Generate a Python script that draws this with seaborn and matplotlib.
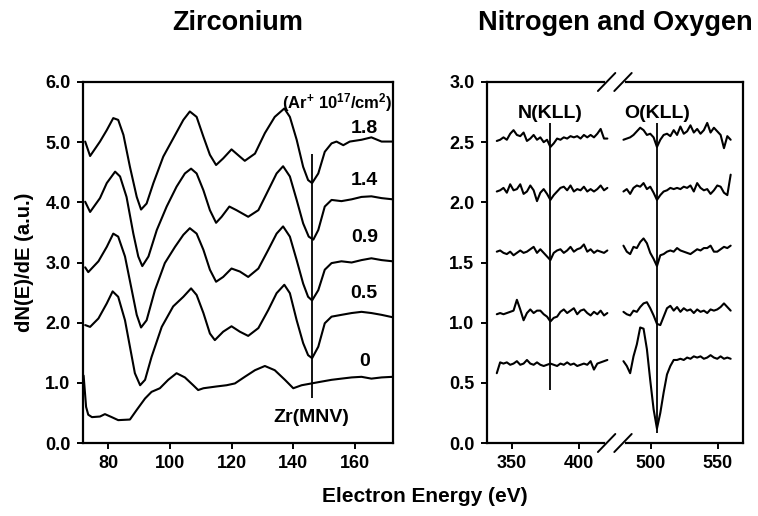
import numpy as np
import pandas as pd
import matplotlib
matplotlib.use("Agg")
import matplotlib.pyplot as plt
import seaborn as sns

# ---------------- data: Zirconium MNV (left panel) ----------------
dose_labels = ["1.8", "1.4", "0.9", "0.5", "0"]

zr18_e = [72.6, 74.2, 77.4, 79.6, 81.7, 83.3, 85.0, 87.1, 89.3, 90.7, 92.5, 94.7, 97.9, 101.1, 104.4,
          106.5, 108.7, 110.9, 113.0, 115.0, 117.3, 120.0, 122.7, 124.3, 127.6, 130.8, 134.0, 137.1,
          138.9, 141.1, 143.2, 144.8, 146.1, 148.1, 150.2, 152.4, 154.0, 156.2, 158.3, 162.1, 165.3,
          168.6, 172.2]
zr18_y = [5.01, 4.77, 5.01, 5.20, 5.40, 5.37, 5.12, 4.59, 4.09, 3.88, 3.98, 4.32, 4.76, 5.06, 5.37,
          5.51, 5.42, 5.09, 4.79, 4.62, 4.73, 4.88, 4.76, 4.69, 4.81, 5.15, 5.42, 5.56,
          5.42, 5.04, 4.59, 4.37, 4.32, 4.48, 4.84, 4.98, 5.01, 4.95, 5.01, 5.04, 5.08,
          5.01, 5.01]

zr14_e = [72.6, 74.2, 77.4, 79.6, 82.3, 83.9, 86.0, 88.2, 89.8, 91.1, 93.1, 95.8, 99.0, 102.2, 104.9,
          106.9, 108.7, 110.9, 113.0, 115.0, 116.8, 119.3, 121.6, 125.4, 128.7, 131.9, 134.6, 136.7,
          138.9, 141.1, 143.2, 145.0, 146.5, 148.1, 150.2, 152.4, 155.6, 158.9, 162.1, 165.3, 168.6,
          172.2]
zr14_y = [4.01, 3.84, 4.07, 4.32, 4.51, 4.43, 4.09, 3.48, 3.10, 2.94, 3.10, 3.54, 3.93, 4.26, 4.48,
          4.56, 4.48, 4.20, 3.87, 3.66, 3.76, 3.93, 3.87, 3.76, 3.87, 4.20, 4.48, 4.60,
          4.43, 4.04, 3.65, 3.43, 3.38, 3.54, 3.93, 4.04, 4.02, 4.05, 4.09, 4.10, 4.07,
          4.05]

zr09_e = [72.6, 73.6, 76.9, 79.6, 81.7, 83.3, 85.5, 87.7, 89.3, 90.7, 92.5, 95.2, 98.4, 101.7, 104.4,
          106.5, 108.7, 110.9, 113.0, 115.0, 117.3, 120.0, 122.7, 125.4, 128.7, 131.9, 134.6, 136.7,
          138.9, 141.1, 143.2, 144.8, 146.1, 148.1, 150.2, 152.4, 155.6, 158.9, 162.1, 165.3, 168.6,
          172.2]
zr09_y = [2.92, 2.84, 3.02, 3.26, 3.48, 3.43, 3.10, 2.54, 2.13, 1.92, 2.04, 2.54, 2.99, 3.26, 3.46,
          3.57, 3.48, 3.21, 2.88, 2.68, 2.76, 2.90, 2.85, 2.76, 2.90, 3.21, 3.48, 3.60,
          3.43, 3.04, 2.65, 2.43, 2.37, 2.54, 2.88, 2.99, 3.02, 3.00, 3.04, 3.07, 3.04,
          3.02]

zr05_e = [72.6, 74.2, 76.9, 79.6, 81.5, 83.3, 85.5, 87.1, 88.7, 90.4, 92.0, 94.1, 97.4, 101.1, 104.4,
          106.9, 108.7, 110.9, 113.0, 114.6, 117.3, 120.0, 122.7, 125.4, 128.7, 131.9, 134.6, 137.1,
          138.9, 141.1, 143.2, 144.8, 146.1, 148.1, 150.2, 152.4, 155.6, 158.9, 162.1, 165.3, 168.6,
          172.2]
zr05_y = [1.96, 1.93, 2.07, 2.32, 2.52, 2.43, 2.04, 1.60, 1.16, 0.96, 1.05, 1.43, 1.93, 2.27, 2.43,
          2.57, 2.46, 2.16, 1.82, 1.71, 1.85, 1.94, 1.85, 1.78, 1.91, 2.21, 2.49, 2.63,
          2.49, 2.04, 1.66, 1.46, 1.41, 1.60, 1.99, 2.10, 2.13, 2.16, 2.18, 2.16, 2.13,
          2.09]

zr00_e = [72.1, 72.9, 73.6, 74.8, 77.4, 79.0, 81.2, 83.3, 87.1, 89.3, 92.0, 94.1, 96.8, 99.5, 102.2,
          104.9, 107.6, 109.2, 110.9, 115.2, 118.4, 121.1, 124.3, 127.6, 130.8, 134.0, 137.3, 140.0,
          142.7, 145.9, 149.1, 152.4, 155.6, 158.9, 162.1, 165.3, 168.6, 172.2]
zr00_y = [1.12, 0.60, 0.47, 0.43, 0.44, 0.48, 0.43, 0.38, 0.39, 0.55, 0.74, 0.85, 0.91, 1.05, 1.16,
          1.09, 0.96, 0.88, 0.91, 0.94, 0.96, 0.99, 1.10, 1.21, 1.28, 1.21, 1.05, 0.91,
          0.96, 0.99, 1.02, 1.05, 1.07, 1.09, 1.10, 1.07, 1.09, 1.10]

zr_label_y = [5.23, 4.37, 3.41, 2.49, 1.35]
zr_line_energy = 146.2
zr_line_span = (0.75, 4.80)

# ---------------- data: N and O KLL (right panel) ----------------
n_energy = [338.8, 341.3, 343.8, 346.3, 348.8, 351.3, 353.8, 356.3, 358.8, 361.3, 363.8, 366.3,
            368.8, 371.3, 373.8, 376.3, 378.8, 381.3, 383.8, 386.3, 388.8, 391.3, 393.8, 396.3,
            398.8, 401.3, 403.8, 406.3, 408.8, 411.3, 413.8, 416.3, 418.8, 421.3]
o_energy = [479.6, 482.1, 484.6, 487.1, 489.6, 492.1, 494.6, 497.1, 499.6, 502.1, 504.6, 507.1,
            509.6, 512.1, 514.6, 517.1, 519.6, 522.1, 524.6, 527.1, 529.6, 532.1, 534.6, 537.1,
            539.6, 542.1, 544.6, 547.1, 549.6, 552.1, 554.6, 557.1, 559.6]

n_18 = [2.51, 2.52, 2.54, 2.52, 2.57, 2.60, 2.56, 2.55, 2.58, 2.51, 2.53, 2.56, 2.52, 2.54, 2.50,
        2.52, 2.46, 2.49, 2.53, 2.52, 2.54, 2.53, 2.55, 2.54, 2.55, 2.53, 2.56, 2.54, 2.56, 2.54,
        2.57, 2.61, 2.53, 2.53]
n_14 = [2.09, 2.10, 2.12, 2.08, 2.15, 2.10, 2.11, 2.15, 2.07, 2.09, 2.14, 2.10, 2.01, 2.08, 2.11,
        2.07, 2.02, 2.06, 2.09, 2.12, 2.13, 2.10, 2.14, 2.09, 2.11, 2.10, 2.13, 2.09, 2.11, 2.09,
        2.11, 2.14, 2.10, 2.12]
n_09 = [1.59, 1.60, 1.58, 1.57, 1.59, 1.56, 1.58, 1.60, 1.58, 1.59, 1.61, 1.63, 1.58, 1.61, 1.58,
        1.55, 1.52, 1.58, 1.60, 1.61, 1.58, 1.60, 1.63, 1.59, 1.61, 1.62, 1.65, 1.59, 1.61, 1.58,
        1.60, 1.59, 1.58, 1.60]
n_05 = [1.07, 1.08, 1.07, 1.08, 1.09, 1.10, 1.19, 1.11, 1.02, 1.08, 1.11, 1.08, 1.10, 1.10, 1.07,
        1.05, 1.01, 1.04, 1.05, 1.09, 1.11, 1.08, 1.10, 1.12, 1.07, 1.10, 1.11, 1.08, 1.06, 1.09,
        1.07, 1.10, 1.06, 1.08]
n_00 = [0.58, 0.67, 0.66, 0.67, 0.65, 0.66, 0.68, 0.65, 0.66, 0.69, 0.66, 0.65, 0.67, 0.65, 0.64,
        0.65, 0.66, 0.65, 0.64, 0.66, 0.65, 0.67, 0.65, 0.66, 0.64, 0.65, 0.66, 0.65, 0.68, 0.61,
        0.66, 0.67, 0.68, 0.69]

o_18 = [2.52, 2.53, 2.54, 2.56, 2.59, 2.62, 2.60, 2.56, 2.57, 2.54, 2.46, 2.52, 2.56, 2.57, 2.55,
        2.60, 2.56, 2.63, 2.57, 2.59, 2.64, 2.58, 2.61, 2.57, 2.60, 2.66, 2.58, 2.62, 2.59, 2.56,
        2.45, 2.55, 2.52]
o_14 = [2.09, 2.11, 2.07, 2.12, 2.14, 2.13, 2.16, 2.11, 2.13, 2.08, 2.02, 2.06, 2.09, 2.10, 2.12,
        2.11, 2.12, 2.11, 2.13, 2.12, 2.14, 2.09, 2.16, 2.12, 2.10, 2.11, 2.07, 2.10, 2.14, 2.13,
        2.08, 2.06, 2.23]
o_09 = [1.64, 1.59, 1.57, 1.63, 1.62, 1.67, 1.70, 1.66, 1.58, 1.53, 1.47, 1.56, 1.57, 1.59, 1.60,
        1.59, 1.62, 1.60, 1.59, 1.58, 1.57, 1.59, 1.61, 1.60, 1.62, 1.62, 1.64, 1.59, 1.59, 1.61,
        1.63, 1.62, 1.64]
o_05 = [1.09, 1.07, 1.06, 1.10, 1.09, 1.13, 1.16, 1.17, 1.12, 1.06, 0.99, 0.98, 1.05, 1.12, 1.14,
        1.10, 1.13, 1.09, 1.12, 1.10, 1.11, 1.08, 1.11, 1.09, 1.10, 1.08, 1.11, 1.10, 1.11, 1.13,
        1.16, 1.13, 1.10]
o_00 = [0.68, 0.64, 0.58, 0.72, 0.82, 0.96, 0.95, 0.78, 0.52, 0.28, 0.12, 0.25, 0.42, 0.57, 0.64,
        0.69, 0.69, 0.70, 0.69, 0.71, 0.70, 0.72, 0.71, 0.72, 0.70, 0.71, 0.73, 0.71, 0.70, 0.72,
        0.70, 0.71, 0.70]

n_line_energy = 378.8
o_line_energy = 504.6
n_line_span = (0.44, 2.66)
o_line_span = (0.08, 2.66)

left_xticks = [80, 100, 120, 140, 160]
left_yticks = [0, 1, 2, 3, 4, 5, 6]
right_xticks = [350, 400, 500, 550]
right_yticks = [0.0, 0.5, 1.0, 1.5, 2.0, 2.5, 3.0]

# ---------------- style ----------------
sns.set_theme(style="ticks")
plt.rcParams["font.family"] = ["Liberation Sans Narrow", "Liberation Sans", "DejaVu Sans"]
plt.rcParams["font.weight"] = "bold"
plt.rcParams["text.color"] = "black"
plt.rcParams["axes.labelcolor"] = "black"
plt.rcParams["mathtext.fontset"] = "custom"
plt.rcParams["mathtext.rm"] = "Liberation Sans:bold"
plt.rcParams["mathtext.bf"] = "Liberation Sans:bold"
plt.rcParams["mathtext.default"] = "bf"
plt.rcParams["axes.linewidth"] = 1.6
plt.rcParams["axes.edgecolor"] = "black"
plt.rcParams["xtick.major.width"] = 1.4
plt.rcParams["ytick.major.width"] = 1.4
plt.rcParams["xtick.major.size"] = 4
plt.rcParams["ytick.major.size"] = 4
plt.rcParams["xtick.color"] = "black"
plt.rcParams["ytick.color"] = "black"

TICK_FS = 13
LW = 1.5

fig = plt.figure(figsize=(7.58, 5.16), dpi=100)
ax1 = fig.add_axes([83 / 758, 73 / 516, 310 / 758, 361 / 516])
ax2 = fig.add_axes([487 / 758, 73 / 516, 256 / 758, 361 / 516])

# ---------------- left panel ----------------
zr_series = [(zr18_e, zr18_y), (zr14_e, zr14_y), (zr09_e, zr09_y), (zr05_e, zr05_y), (zr00_e, zr00_y)]
for e, y in zr_series:
    sns.lineplot(x=e, y=y, ax=ax1, color="black", linewidth=LW, estimator=None, sort=False)
ax1.vlines(zr_line_energy, *zr_line_span, color="black", linewidth=1.3)
ax1.set_xlim(71.9, 172.3)
ax1.set_ylim(0, 6)
ax1.set_xticks(left_xticks)
ax1.set_yticks(left_yticks)
ax1.set_yticklabels([f"{v:.1f}" for v in left_yticks])
for lab, ly in zip(dose_labels, zr_label_y):
    ax1.text(163.0, ly, lab, ha="center", va="center", fontsize=14, fontweight="bold")
ax1.text(172.0, 5.66, r"(Ar$^{+}$ 10$^{17}$/cm$^{2}$)", ha="right", va="center",
         fontsize=12, fontweight="bold")
ax1.text(146.0, 0.43, "Zr(MNV)", ha="center", va="center", fontsize=14, fontweight="bold")
ax1.set_ylabel("dN(E)/dE (a.u.)", fontsize=14.5, fontweight="bold", labelpad=8)
ax1.set_xlabel("")

# ---------------- right panel with broken axis ----------------
GA, GB, SHIFT = 424.0, 476.0, 46.3


def fwd(x):
    x = np.asarray(x, float)
    mid = GA + (x - GA) * (GB - SHIFT - GA) / (GB - GA)
    return np.where(x <= GA, x, np.where(x >= GB, x - SHIFT, mid))


def inv(u):
    u = np.asarray(u, float)
    mid = GA + (u - GA) * (GB - GA) / (GB - SHIFT - GA)
    return np.where(u <= GA, u, np.where(u >= GB - SHIFT, u + SHIFT, mid))


ax2.set_xscale("function", functions=(fwd, inv))
for yv in [n_18, n_14, n_09, n_05, n_00]:
    sns.lineplot(x=n_energy, y=yv, ax=ax2, color="black", linewidth=LW, estimator=None, sort=False)
for yv in [o_18, o_14, o_09, o_05, o_00]:
    sns.lineplot(x=o_energy, y=yv, ax=ax2, color="black", linewidth=LW, estimator=None, sort=False)
ax2.vlines(n_line_energy, *n_line_span, color="black", linewidth=1.3)
ax2.vlines(o_line_energy, *o_line_span, color="black", linewidth=1.3)
ax2.set_xlim(331.5, 568.8)
ax2.set_ylim(0, 3)
ax2.set_xticks(right_xticks)
ax2.set_xticklabels([str(v) for v in right_xticks])
ax2.xaxis.set_minor_locator(matplotlib.ticker.NullLocator())
ax2.set_yticks(right_yticks)
ax2.set_yticklabels([f"{v:.1f}" for v in right_yticks])
ax2.text(379.0, 2.74, "N(KLL)", ha="center", va="center", fontsize=14, fontweight="bold")
ax2.text(505.0, 2.74, "O(KLL)", ha="center", va="center", fontsize=14, fontweight="bold")
ax2.set_xlabel("")
ax2.set_ylabel("")

# break marks
x0, x1 = fwd(331.5), fwd(568.8)
cx = float((fwd(450.0) - x0) / (x1 - x0))
dxs, hw, hh = 0.032, 0.034, 0.025
for yb in (0.0, 1.0):
    ax2.plot([cx - dxs, cx + dxs], [yb, yb], transform=ax2.transAxes, color="white",
             linewidth=3, clip_on=False, zorder=5)
    for off in (-dxs, dxs):
        ax2.plot([cx + off - hw, cx + off + hw], [yb - hh, yb + hh], transform=ax2.transAxes,
                 color="black", linewidth=1.4, clip_on=False, zorder=6)

for ax in (ax1, ax2):
    for sp in ax.spines.values():
        sp.set_visible(True)
        sp.set_linewidth(1.6)
    ax.tick_params(labelsize=TICK_FS, pad=5)
    for lab in ax.get_xticklabels() + ax.get_yticklabels():
        lab.set_fontweight("bold")

fig.text(238 / 758, 1 - 23 / 516, "Zirconium", ha="center", va="center", fontsize=19.5, fontweight="bold")
fig.text(615 / 758, 1 - 23 / 516, "Nitrogen and Oxygen", ha="center", va="center", fontsize=19.5,
         fontweight="bold")
fig.text(425 / 758, 1 - 497 / 516, "Electron Energy (eV)", ha="center", va="center", fontsize=15,
         fontweight="bold")

fig.savefig("out.png", dpi=100, facecolor="white")
